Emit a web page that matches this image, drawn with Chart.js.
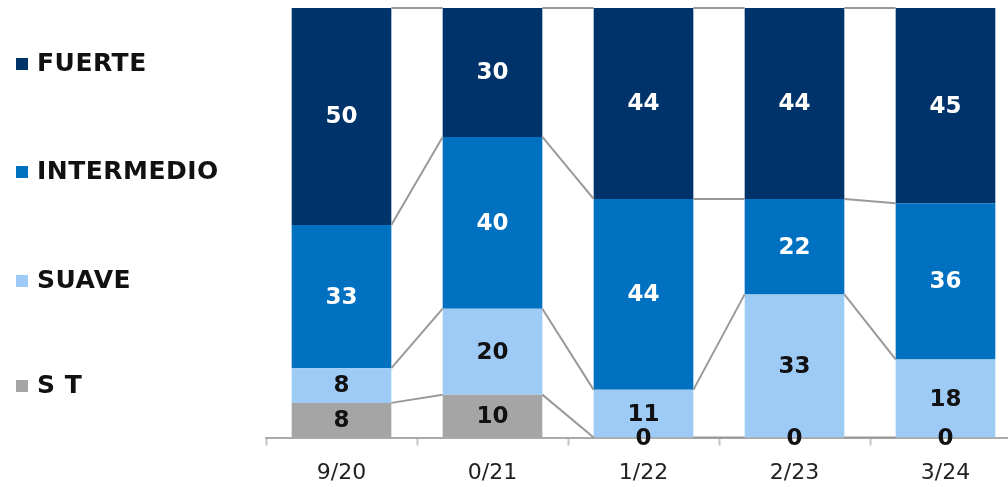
<!DOCTYPE html>
<html>
<head>
    <style>
        body {
            margin: 0;
            overflow: hidden;
            background: #fff;
        }

        #chartBox {
            position: absolute;
            left: 0;
            top: 0;
            width: 1021px;
            height: 500px;
        }

        .legend-item {
            position: absolute;
            left: 16px;
            height: 30px;
            line-height: 30px;
            font-family: 'DejaVu Sans', sans-serif;
            font-weight: bold;
            font-size: 25px;
            letter-spacing: 0.5px;
            color: #111;
            white-space: nowrap;
        }

        .legend-item span {
            display: inline-block;
            width: 12px;
            height: 12px;
            margin-right: 9px;
            vertical-align: 1px;
        }
    </style>
    <script src="https://cdn.jsdelivr.net/npm/chart.js"></script>
</head>
<body>
    <div id="chartBox"><canvas id="chart"></canvas></div>
    <div id="legend"></div>

    <script>
        const periods = ['9/20', '0/21', '1/22', '2/23', '3/24'];
        const seriesNames = ['S T', 'SUAVE', 'INTERMEDIO', 'FUERTE'];
        const st = [8, 10, 0, 0, 0];
        const suave = [8, 20, 11, 33, 18];
        const intermedio = [33, 40, 44, 22, 36];
        const fuerte = [50, 30, 44, 44, 45];
        const colors = ['#a5a5a5', '#9dcbf6', '#0070c0', '#00336a'];
        const labelColors = ['#111', '#111', '#fff', '#fff'];
        const legendTops = [48, 156, 265, 370]; // top to bottom: FUERTE .. S T

        const raw = [st, suave, intermedio, fuerte];
        const totals = periods.map((p, i) => raw.reduce((s, arr) => s + arr[i], 0));

        // bars are 100% stacked, shares of each column total
        const datasets = raw.map((arr, k) => ({
            label: seriesNames[k],
            data: arr.map((v, i) => v / totals[i] * 100),
            rawValues: arr,
            backgroundColor: colors[k],
            borderWidth: 0,
            categoryPercentage: 1,
            barPercentage: 0.66
        }));

        // lines joining segment tops between neighbouring bars
        const connectors = {
            id: 'connectors',
            afterDatasetsDraw(chart) {
                const ctx = chart.ctx;
                ctx.save();
                ctx.strokeStyle = '#999';
                ctx.lineWidth = 2;
                chart.data.datasets.forEach((ds, i) => {
                    const meta = chart.getDatasetMeta(i);
                    for (let j = 0; j < meta.data.length - 1; j++) {
                        const a = meta.data[j], b = meta.data[j + 1];
                        ctx.beginPath();
                        ctx.moveTo(a.x + a.width / 2, a.y);
                        ctx.lineTo(b.x - b.width / 2, b.y);
                        ctx.stroke();
                    }
                });
                ctx.restore();
            }
        };

        const valueLabels = {
            id: 'valueLabels',
            afterDatasetsDraw(chart) {
                const ctx = chart.ctx;
                ctx.save();
                ctx.font = 'bold 23px "DejaVu Sans"';
                ctx.textAlign = 'center';
                ctx.textBaseline = 'middle';
                chart.data.datasets.forEach((ds, i) => {
                    const meta = chart.getDatasetMeta(i);
                    ctx.fillStyle = labelColors[i];
                    meta.data.forEach((bar, j) => {
                        ctx.fillText(String(ds.rawValues[j]), bar.x, (bar.y + bar.base) / 2 + 1);
                    });
                });
                ctx.restore();
            }
        };

        new Chart(document.getElementById('chart'), {
            type: 'bar',
            data: { labels: periods, datasets: datasets },
            options: {
                responsive: true,
                maintainAspectRatio: false,
                animation: false,
                layout: { padding: { left: 266, top: 8, right: 0, bottom: 0 } },
                plugins: {
                    legend: { display: false },
                    tooltip: { enabled: false }
                },
                scales: {
                    x: {
                        stacked: true,
                        grid: {
                            offset: true,
                            drawOnChartArea: false,
                            tickLength: 8,
                            tickColor: '#c4c4c4',
                            tickWidth: 2
                        },
                        border: { color: '#aaa', width: 2 },
                        ticks: {
                            padding: 14,
                            color: '#222',
                            font: { family: 'DejaVu Sans', size: 22 }
                        }
                    },
                    y: {
                        stacked: true,
                        display: false,
                        min: 0,
                        max: 100
                    }
                }
            },
            plugins: [connectors, valueLabels]
        });

        // legend, top item is the top of the stack
        const legend = document.getElementById('legend');
        for (let k = seriesNames.length - 1, n = 0; k >= 0; k--, n++) {
            const item = document.createElement('div');
            item.className = 'legend-item';
            item.style.top = legendTops[n] + 'px';
            item.innerHTML = '<span style="background:' + colors[k] + '"></span>' + seriesNames[k];
            legend.appendChild(item);
        }
    </script>
</body>
</html>
